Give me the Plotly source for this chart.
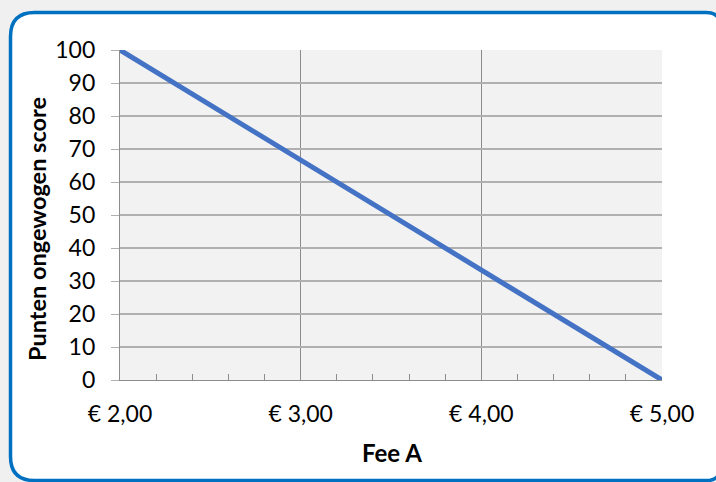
import plotly.graph_objects as go

fee = [2.0, 5.0]
score = [100, 0]
x_tickvals = [2, 3, 4, 5]
x_ticktext = ["€ 2,00", "€ 3,00", "€ 4,00", "€ 5,00"]
y_tickvals = [0, 10, 20, 30, 40, 50, 60, 70, 80, 90, 100]

W, H = 716, 482
L, R, T, B = 120, 54, 50, 102
pw, ph = W - L - R, H - T - B

def px(x):
    return (x - L) / pw

def py(y):
    return (H - B - y) / ph

fig = go.Figure()
fig.add_trace(go.Scatter(x=fee, y=score, mode="lines",
                         line=dict(color="#4472c4", width=5), showlegend=False,
                         cliponaxis=False))

# rounded outer box (left corners larger radius, right corners partly off-screen)
x0, x1, y0, y1, r, rr = 10.5, 721, 12.5, 480.6, 24, 15
path = (f"M {px(x0+r)},{py(y0)} L {px(x1-rr)},{py(y0)} "
        f"Q {px(x1)},{py(y0)} {px(x1)},{py(y0+rr)} "
        f"L {px(x1)},{py(y1-rr)} Q {px(x1)},{py(y1)} {px(x1-rr)},{py(y1)} "
        f"L {px(x0+r)},{py(y1)} Q {px(x0)},{py(y1)} {px(x0)},{py(y1-r)} "
        f"L {px(x0)},{py(y0+r)} Q {px(x0)},{py(y0)} {px(x0+r)},{py(y0)} Z")
fig.add_shape(type="path", path=path, xref="paper", yref="paper",
              fillcolor="white", line=dict(color="#0070c0", width=3.5), layer="below")
fig.add_shape(type="rect", x0=0, x1=1, y0=0, y1=1, xref="paper", yref="paper",
              fillcolor="#f2f2f2", line=dict(width=0), layer="below")

font = "Lato, Calibri, Carlito, sans-serif"
fig.update_layout(
    width=W, height=H,
    margin=dict(l=L, r=R, t=T, b=B),
    paper_bgcolor="#f0f0f0",
    plot_bgcolor="rgba(0,0,0,0)",
    font=dict(family=font, color="#000000"),
    xaxis=dict(range=[2, 5], tickvals=x_tickvals, ticktext=x_ticktext,
               showgrid=True, gridcolor="#8c8c8c", gridwidth=1.2,
               showline=True, linecolor="#8c8c8c", linewidth=1.2,
               ticks="inside", ticklen=6, tickcolor="#8c8c8c",
               minor=dict(dtick=0.2, ticks="inside", ticklen=6, tickcolor="#8c8c8c",
                          showgrid=False),
               tickfont=dict(size=23), ticklabelstandoff=13, zeroline=False),
    yaxis=dict(range=[0, 100], tickvals=y_tickvals,
               showgrid=True, gridcolor="#b0b0b0", gridwidth=1.5,
               showline=True, linecolor="#8c8c8c", linewidth=1.2,
               ticks="outside", ticklen=8, tickcolor="#b0b0b0",
               tickfont=dict(size=23), ticklabelstandoff=11, zeroline=False),
    annotations=[
        dict(text="<b>Fee A</b>", x=px(392), y=py(452), xref="paper", yref="paper",
             showarrow=False, font=dict(size=24), xanchor="center", yanchor="middle"),
        dict(text="<b>Punten ongewogen score</b>", x=px(37), y=py(229), xref="paper",
             yref="paper", showarrow=False, font=dict(size=23.5), textangle=-90,
             xanchor="center", yanchor="middle"),
    ],
)

fig.write_html("out.html", config={"displayModeBar": False},
               post_script="document.body.style.margin='0px';"
                           "document.body.style.background='#f0f0f0';")
